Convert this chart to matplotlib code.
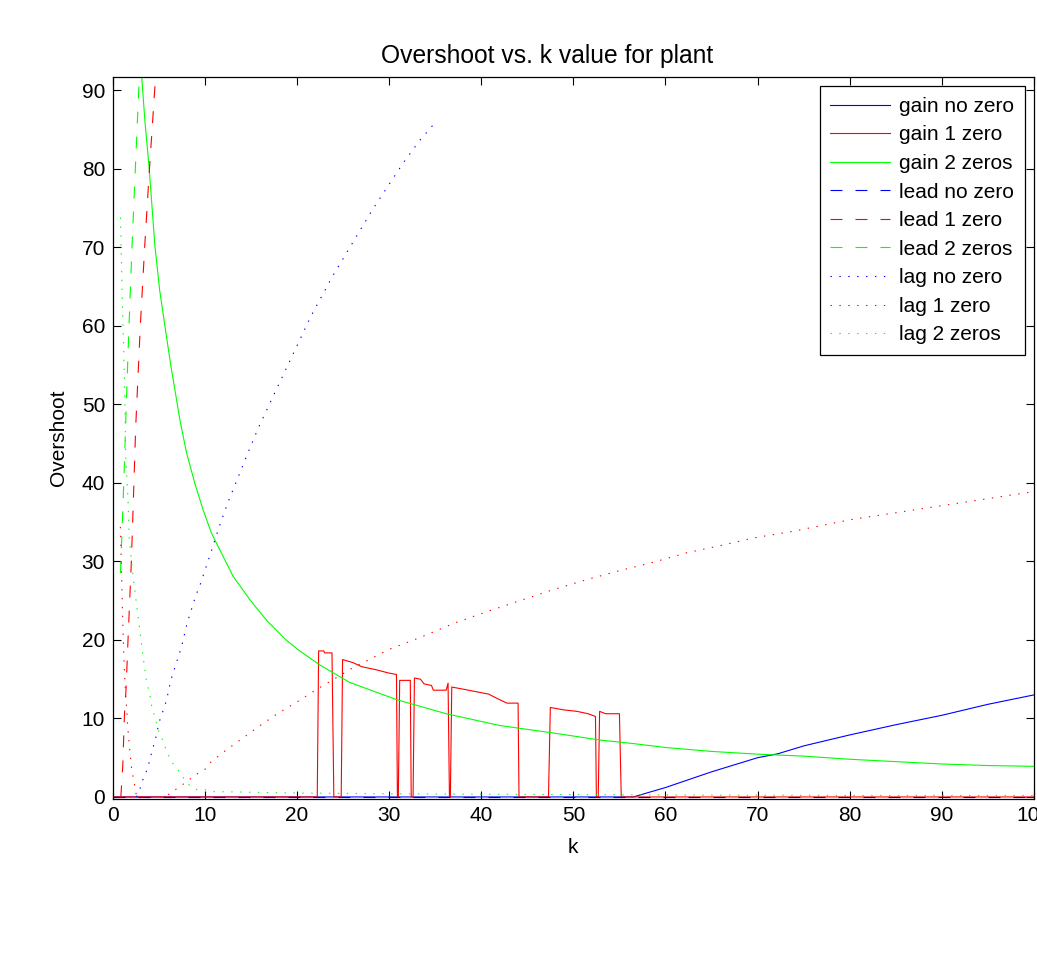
import matplotlib
matplotlib.use("Agg")
import matplotlib.pyplot as plt

plt.rcParams['font.family'] = ['Liberation Sans', 'DejaVu Sans']
plt.rcParams['lines.scale_dashes'] = False

# ---------------- data ----------------
k_gain0 = [0, 56.5, 60, 65, 70, 72.2, 75, 80, 85, 90, 95, 100]
gain0 = [0, 0, 1.2, 3.2, 5.0, 5.5, 6.5, 7.9, 9.2, 10.4, 11.8, 13.0]

k_gain1 = [0, 22.2, 22.35, 22.9, 23.0, 23.8, 24.0,
           24.8, 24.95, 26.1, 27.0, 28.6, 29.9, 30.8, 30.9,
           31.0, 31.15, 32.3, 32.4,
           32.6, 32.75, 33.4, 33.8, 34.6, 34.8, 36.2, 36.4, 36.55,
           36.65, 36.8, 38.4, 39.7, 40.8, 41.8, 42.8, 44.0, 44.1,
           47.3, 47.5, 48.9, 50.4, 51.6, 52.4, 52.5,
           52.7, 52.85, 53.5, 55.0, 55.2, 100]
gain1 = [0, 0, 18.6, 18.6, 18.35, 18.35, 0,
         0, 17.5, 17.1, 16.6, 16.2, 15.8, 15.6, 0,
         0, 14.85, 14.85, 0,
         0, 15.15, 15.0, 14.4, 14.2, 13.6, 13.6, 14.5, 0,
         0, 14.0, 13.65, 13.35, 13.1, 12.5, 11.95, 11.95, 0,
         0, 11.4, 11.1, 10.9, 10.6, 10.25, 0,
         0, 10.9, 10.6, 10.6, 0, 0]

k_gain2 = [3.1, 3.5, 3.95, 4.57, 5.1, 5.65, 6.3, 6.97, 7.28, 8.0, 8.9, 9.8,
           10.72, 11.44, 12.0, 13.07, 14.9, 16.7, 18.9, 20.3, 22.5, 25.7,
           30.8, 36.2, 42.0, 47.5, 52.9, 56.5, 60, 65, 70, 75, 80, 85, 90,
           95, 100]
gain2 = [92.5, 86, 80.2, 70.3, 64.5, 60.1, 55, 50.3, 48.1, 43.9, 40.0, 36.6,
         33.6, 31.9, 30.6, 28.1, 25.1, 22.5, 19.9, 18.6, 16.8, 14.6,
         12.4, 10.6, 9.1, 8.2, 7.25, 6.8, 6.3, 5.8, 5.45, 5.2, 4.8, 4.5, 4.2,
         4.0, 3.9]

k_lead0 = [0, 100]
lead0 = [0, 0]

k_lead1 = [0.84, 0.88, 1.09, 1.27, 1.45, 1.66, 2.03, 2.3, 2.5, 3.0, 3.48, 4.0, 4.67, 4.75]
lead1 = [0, 0, 4, 10.4, 13.8, 20, 30.2, 40, 47.3, 60.1, 70.3, 80.2, 92.1, 93.5]

k_lead2 = [0.84, 1.2, 1.48, 1.77, 2.1, 2.46, 2.86, 2.95]
lead2 = [28.5, 40, 50.3, 60.1, 70.3, 80.2, 91, 93.5]

k_lag0 = [2.6, 2.7, 3.08, 3.37, 3.8, 4.0, 4.27, 4.53, 4.78, 4.96, 5.25, 5.6,
          5.87, 6.1, 6.3, 7.46, 8.07, 9.0, 9.45, 10.65, 11.55, 12.5, 13.6,
          14.7, 15.8, 17.4, 19.05, 21.5, 23.8, 26.3, 28.3, 31.5, 33.3, 35.0]
lag0 = [0, 0.35, 1.4, 2.6, 3.6, 4.7, 5.8, 6.95, 8.0, 9.2, 10.3, 11.4,
        12.5, 13.7, 14.85, 19.1, 22.1, 25.6, 26.9, 31.1, 34.4, 37.5, 40.7,
        43.9, 47.0, 51.0, 55.1, 61.2, 66.2, 71.1, 75.0, 80.7, 83.6, 85.9]

k_lag1 = [0.83, 0.95, 1.05, 1.15, 1.25, 1.4, 1.55, 1.65, 1.75, 1.85, 1.95,
          2.05, 2.2, 2.4, 2.55, 2.7, 5.6, 5.9, 6.7, 7.5, 8.3, 9.1, 10.0,
          10.7, 12, 14, 16, 18, 20, 22, 24, 26, 28, 30, 33.35, 37, 40.6,
          44.2, 47.8, 51.5, 55.1, 58.7, 62.3, 65.9, 69.6, 73.9, 80, 90, 100]
lag1 = [34.4, 29, 24, 20, 16.5, 13, 10.5, 8.6, 7.3, 6.0, 4.8,
        3.6, 2.6, 1.4, 0.3, 0, 0, 0.2, 0.85, 1.5, 2.2, 2.9, 3.5,
        4.5, 5.7, 7.4, 9.1, 10.7, 12.1, 13.6, 15.0, 16.4, 17.6, 18.8, 20.3, 22.1, 23.6,
        25.0, 26.4, 27.7, 28.85, 29.9, 31.1, 32.0, 33.0, 33.85, 35.3, 37.1, 38.9]

k_lag2 = [0.84, 0.94, 1.05, 1.2, 1.3, 1.41, 1.66, 1.8, 2.2, 2.57, 2.93, 3.2,
          3.65, 4.05, 4.16, 4.45, 4.7, 4.96, 5.36, 5.7, 6.08, 6.5, 7.17, 7.7,
          8.33, 9.16, 9.96, 10.97, 15, 20, 30, 40, 60, 80, 100]
lag2 = [73.8, 68.6, 62.7, 56.7, 51.6, 43.3, 37.9, 32.8, 28.1, 24.7, 21.3, 18.7,
        14.85, 13.0, 11.9, 10.7, 9.6, 8.45, 7.4, 6.3, 5.25, 4.3, 3.3, 2.4,
        1.5, 0.93, 0.93, 0.68, 0.6, 0.5, 0.4, 0.35, 0.25, 0.2, 0.2]

labels = ['gain no zero', 'gain 1 zero', 'gain 2 zeros',
          'lead no zero', 'lead 1 zero', 'lead 2 zeros',
          'lag no zero', 'lag 1 zero', 'lag 2 zeros']
x_ticks = [0, 10, 20, 30, 40, 50, 60, 70, 80, 90, 100]
y_ticks = [0, 10, 20, 30, 40, 50, 60, 70, 80, 90]

# ---------------- styling ----------------
BLUE, RED, GREEN = '#0000ff', '#ff0000', '#00ff00'
LW = 0.8
SOLID = '-'
DASH = (0, (8.6, 9.4))
DOT = (0, (1.0, 5.4))

fig = plt.figure(figsize=(10.37, 9.63), dpi=100)
ax = fig.add_axes([0.1087, 0.1708, 0.8884, 0.7492])

series = [
    (k_gain0, gain0, BLUE, SOLID),
    (k_gain1, gain1, RED, SOLID),
    (k_gain2, gain2, GREEN, SOLID),
    (k_lead0, lead0, BLUE, DASH),
    (k_lead1, lead1, RED, DASH),
    (k_lead2, lead2, GREEN, DASH),
    (k_lag0, lag0, BLUE, DOT),
    (k_lag1, lag1, RED, DOT),
    (k_lag2, lag2, GREEN, DOT),
]
for (kx, vy, c, ls), lab in zip(series, labels):
    ax.plot(kx, vy, color=c, linestyle=ls, linewidth=LW, label=lab)

ax.set_xlim(0, 100)
ax.set_ylim(-0.2, 91.7)
ax.set_xticks(x_ticks)
ax.set_yticks(y_ticks)
ax.tick_params(direction='in', length=5.8, width=0.8, labelsize=15,
               top=True, right=True, pad=5.5, colors='black')
for sp in ax.spines.values():
    sp.set_linewidth(0.9)

ttl = ax.set_title('Overshoot vs. k value for plant', fontsize=17.7, pad=10)
ttl.set_x(0.471)
ax.set_xlabel('k', fontsize=15, labelpad=9)
ax.set_ylabel('Overshoot', fontsize=15, labelpad=10)

leg = ax.legend(loc='upper right', fontsize=15, handlelength=2.9,
                handletextpad=0.42, labelspacing=0.46, borderpad=0.5,
                borderaxespad=0.45, fancybox=False, framealpha=1,
                edgecolor='black')
leg.get_frame().set_linewidth(0.9)

fig.savefig('out.png', dpi=100)
